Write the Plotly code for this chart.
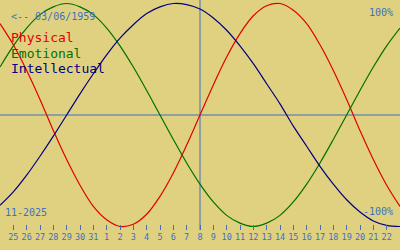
import pandas as pd
import plotly.graph_objects as go

dates = [d.strftime("%Y-%m-%d") for d in pd.date_range("2025-10-24", "2025-11-23")]
tick_dates = dates[1:-1]
tick_labels = ["25", "26", "27", "28", "29", "30", "31", "1", "2", "3", "4", "5", "6", "7", "8",
               "9", "10", "11", "12", "13", "14", "15", "16", "17", "18", "19", "20", "21", "22"]
today = "2025-11-08"

physical = [0.82, 0.63, 0.40, 0.14, -0.14, -0.40, -0.63, -0.82, -0.94, -1.00, -0.98, -0.89,
            -0.73, -0.52, -0.27, 0.00, 0.27, 0.52, 0.73, 0.89, 0.98, 1.00, 0.94, 0.82,
            0.63, 0.40, 0.14, -0.14, -0.40, -0.63, -0.82]
emotional = [0.43, 0.62, 0.78, 0.90, 0.97, 1.00, 0.97, 0.90, 0.78, 0.62, 0.43, 0.22,
             0.00, -0.22, -0.43, -0.62, -0.78, -0.90, -0.97, -1.00, -0.97, -0.90, -0.78, -0.62,
             -0.43, -0.22, 0.00, 0.22, 0.43, 0.62, 0.78]
intellectual = [-0.81, -0.69, -0.54, -0.37, -0.19, 0.00, 0.19, 0.37, 0.54, 0.69, 0.81, 0.91,
                0.97, 1.00, 0.99, 0.95, 0.87, 0.76, 0.62, 0.46, 0.28, 0.10, -0.10, -0.28,
                -0.46, -0.62, -0.76, -0.87, -0.95, -0.99, -1.00]

BG = "#E0D180"
BLUE = "#3F6FC2"
MONO = "DejaVu Sans Mono"

fig = go.Figure()
for vals, col in [(physical, "#E00000"), (emotional, "#007000"), (intellectual, "#000080")]:
    fig.add_trace(go.Scatter(x=dates, y=vals, mode="lines",
                             line=dict(color=col, width=1.2, shape="spline", smoothing=1.0),
                             hoverinfo="skip", showlegend=False))

fig.add_shape(type="line", xref="paper", yref="y", x0=0, x1=1, y0=0, y1=0,
              line=dict(color=BLUE, width=1), layer="below")
fig.add_shape(type="line", xref="x", yref="paper", x0=today, x1=today, y0=0, y1=1,
              line=dict(color=BLUE, width=1), layer="below")

H = 230.0
def py(p):
    return 1 - p / H

anns = [
    dict(text="<-- 03/06/1959", x=0.025, y=py(16.5), xanchor="left", size=10, color=BLUE),
    dict(text="100%", x=0.985, y=py(12), xanchor="right", size=10, color=BLUE),
    dict(text="Physical", x=0.025, y=py(38), xanchor="left", size=13, color="#E00000"),
    dict(text="Emotional", x=0.025, y=py(53), xanchor="left", size=13, color="#007000"),
    dict(text="Intellectual", x=0.025, y=py(68), xanchor="left", size=13, color="#000080"),
    dict(text="11-2025", x=0.01, y=py(212), xanchor="left", size=10, color=BLUE),
    dict(text="-100%", x=0.985, y=py(211.5), xanchor="right", size=10, color=BLUE),
]
for a in anns:
    fig.add_annotation(text=a["text"], x=a["x"], y=a["y"], xref="paper", yref="paper",
                       xanchor=a["xanchor"], yanchor="middle", showarrow=False,
                       font=dict(family=MONO, size=a["size"], color=a["color"]),
                       borderpad=0)

fig.update_layout(
    width=400, height=250,
    margin=dict(l=0, r=0, t=0, b=20, pad=0),
    paper_bgcolor=BG, plot_bgcolor=BG,
    xaxis=dict(type="date", range=[dates[0], dates[-1]], tickvals=tick_dates, ticktext=tick_labels,
               ticks="inside", ticklen=5, tickwidth=1, tickcolor=BLUE,
               tickfont=dict(family=MONO, size=8.5, color=BLUE),
               showgrid=False, zeroline=False, showline=False, fixedrange=True),
    yaxis=dict(range=[-1.0314, 1.0314], visible=False, showgrid=False, zeroline=False, fixedrange=True),
)

fig.write_html("out.html", config={"displayModeBar": False})
